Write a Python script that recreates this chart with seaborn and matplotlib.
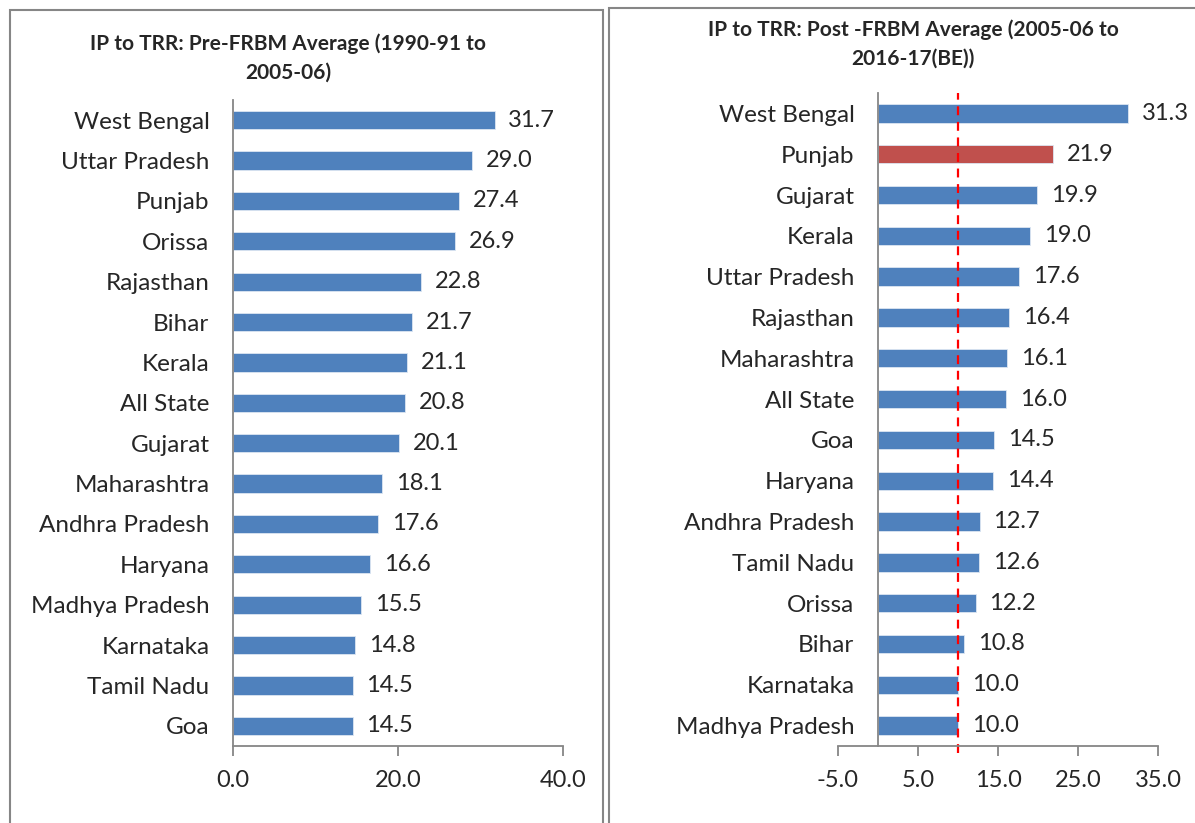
import matplotlib
matplotlib.use("Agg")
import matplotlib.pyplot as plt
import seaborn as sns
import pandas as pd
from matplotlib.patches import Rectangle

# ---- data ----
pre_states = ["West Bengal", "Uttar Pradesh", "Punjab", "Orissa", "Rajasthan", "Bihar",
              "Kerala", "All State", "Gujarat", "Maharashtra", "Andhra Pradesh", "Haryana",
              "Madhya Pradesh", "Karnataka", "Tamil Nadu", "Goa"]
pre_values = [31.7, 29.0, 27.4, 26.9, 22.8, 21.7, 21.1, 20.8, 20.1, 18.1, 17.6, 16.6,
              15.5, 14.8, 14.5, 14.5]

post_states = ["West Bengal", "Punjab", "Gujarat", "Kerala", "Uttar Pradesh", "Rajasthan",
               "Maharashtra", "All State", "Goa", "Haryana", "Andhra Pradesh", "Tamil Nadu",
               "Orissa", "Bihar", "Karnataka", "Madhya Pradesh"]
post_values = [31.3, 21.9, 19.9, 19.0, 17.6, 16.4, 16.1, 16.0, 14.5, 14.4, 12.7, 12.6,
               12.2, 10.8, 10.0, 10.0]
highlight_state = "Punjab"
ref_line_value = 10.0

pre_title = "IP to TRR: Pre-FRBM Average (1990-91 to\n2005-06)"
post_title = "IP to TRR: Post -FRBM Average (2005-06 to\n2016-17(BE))"
pre_ticks = [0, 20, 40]
post_ticks = [-5, 5, 15, 25, 35]

BLUE = "#4F81BD"
RED = "#C0504D"
GRAY = "#868686"

sns.set_style("white")
plt.rcParams["font.family"] = ["Lato", "DejaVu Sans"]

W, H = 1195, 823
fig = plt.figure(figsize=(W / 100, H / 100), dpi=100)

def fx(px):
    return px / W

def fy(py):
    return 1 - py / H

# panel borders
fig.patches.append(Rectangle((fx(10), fy(830)), fx(603) - fx(10), fy(10) - fy(830),
                             transform=fig.transFigure, fill=False, edgecolor=GRAY, lw=1.5))
fig.patches.append(Rectangle((fx(609), fy(830)), fx(1200) - fx(609), fy(8) - fy(830),
                             transform=fig.transFigure, fill=False, edgecolor=GRAY, lw=1.5))

ax1 = fig.add_axes([fx(233), fy(746), fx(563) - fx(233), fy(100) - fy(746)])
ax2 = fig.add_axes([fx(838), fy(746), fx(1158) - fx(838), fy(93) - fy(746)])

df1 = pd.DataFrame({"state": pre_states, "value": pre_values})
df2 = pd.DataFrame({"state": post_states, "value": post_values})
pal2 = {s: (RED if s == highlight_state else BLUE) for s in post_states}

sns.barplot(data=df1, y="state", x="value", color=BLUE, orient="h", width=0.45,
            ax=ax1, edgecolor="#DCE6F2", linewidth=0.6, saturation=1)
sns.barplot(data=df2, y="state", x="value", hue="state", palette=pal2, orient="h",
            width=0.45, ax=ax2, legend=False, edgecolor="#DCE6F2", linewidth=0.6,
            saturation=1)

for ax, ticks, lim in [(ax1, pre_ticks, (0, 40)), (ax2, post_ticks, (-5, 35))]:
    ax.set_xlim(*lim)
    ax.set_xticks(ticks)
    ax.set_xticklabels([f"{t:.1f}" for t in ticks], fontsize=17)
    ax.set_xlabel("")
    ax.set_ylabel("")
    for sp in ["top", "right"]:
        ax.spines[sp].set_visible(False)
    ax.spines["bottom"].set_color(GRAY)
    ax.spines["left"].set_color(GRAY)
    ax.spines["bottom"].set_linewidth(1.3)
    ax.spines["left"].set_linewidth(1.3)
    ax.tick_params(axis="x", direction="out", length=7, width=1.3, color=GRAY, pad=10,
                   bottom=True)
    ax.tick_params(axis="y", length=0, pad=17, labelsize=17.5)
    for c in ax.containers:
        ax.bar_label(c, fmt="%.1f", padding=10, fontsize=17)

ax2.spines["left"].set_position(("data", 0))
ax2.axvline(ref_line_value, ymin=-0.01, ymax=1.0, color="red", ls="--", lw=1.6,
            clip_on=False, dashes=(4, 3))

fig.text(fx(288), fy(58), pre_title, ha="center", va="center", fontsize=15,
         fontweight="bold", linespacing=1.5)
fig.text(fx(913), fy(44), post_title, ha="center", va="center", fontsize=15,
         fontweight="bold", linespacing=1.5)

fig.savefig("out.png", dpi=100)
